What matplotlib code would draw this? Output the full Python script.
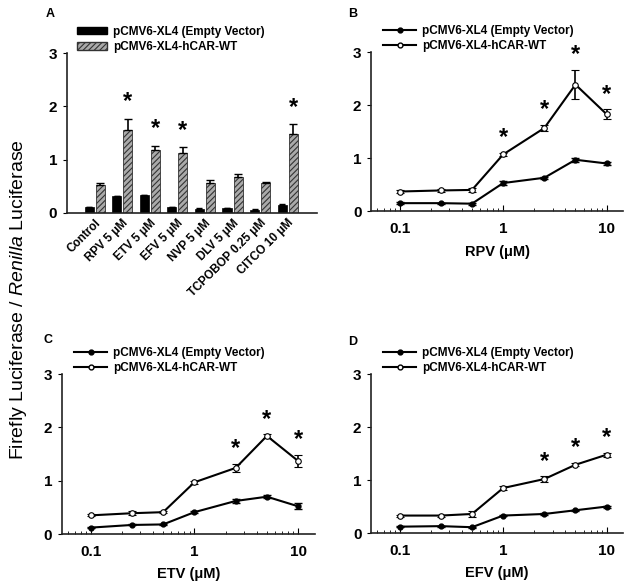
import numpy as np
import matplotlib
matplotlib.use("Agg")
import matplotlib.pyplot as plt
from matplotlib.patches import Patch
from matplotlib.lines import Line2D

plt.rcParams['font.family'] = ['Liberation Sans', 'DejaVu Sans']
plt.rcParams['mathtext.fontset'] = 'custom'
plt.rcParams['mathtext.it'] = 'Liberation Sans:italic'
plt.rcParams['mathtext.rm'] = 'Liberation Sans'
plt.rcParams['hatch.linewidth'] = 0.8
plt.rcParams['axes.linewidth'] = 1.2
plt.rcParams['axes.edgecolor'] = '#222222'

# panel A data
categories = ["Control", "RPV 5 \u03bcM", "ETV 5 \u03bcM", "EFV 5 \u03bcM", "NVP 5 \u03bcM",
              "DLV 5 \u03bcM", "TCPOBOP 0.25 \u03bcM", "CITCO 10 \u03bcM"]
empty_bar = [0.11, 0.31, 0.33, 0.11, 0.075, 0.09, 0.06, 0.15]
empty_bar_err = [0.01, 0.01, 0.01, 0.01, 0.01, 0.01, 0.01, 0.01]
wt_bar = [0.53, 1.56, 1.18, 1.12, 0.57, 0.68, 0.56, 1.49]
wt_bar_err = [0.04, 0.21, 0.08, 0.11, 0.05, 0.06, 0.03, 0.17]
star_bar = [False, True, True, True, False, False, False, True]

# dose-response data
conc = [0.1, 0.25, 0.5, 1, 2.5, 5, 10]

rpv_empty = [0.15, 0.15, 0.14, 0.53, 0.63, 0.97, 0.90]
rpv_empty_err = [0.02, 0.01, 0.02, 0.03, 0.02, 0.04, 0.03]
rpv_wt = [0.37, 0.39, 0.40, 1.07, 1.57, 2.39, 1.83]
rpv_wt_err = [0.02, 0.02, 0.03, 0.03, 0.06, 0.28, 0.09]
rpv_star = [False, False, False, True, True, True, True]

etv_empty = [0.12, 0.17, 0.18, 0.41, 0.62, 0.70, 0.52]
etv_empty_err = [0.01, 0.01, 0.01, 0.02, 0.04, 0.03, 0.06]
etv_wt = [0.35, 0.39, 0.41, 0.97, 1.24, 1.84, 1.37]
etv_wt_err = [0.02, 0.04, 0.02, 0.03, 0.07, 0.03, 0.11]
etv_star = [False, False, False, False, True, True, True]

efv_empty = [0.12, 0.13, 0.11, 0.33, 0.36, 0.43, 0.50]
efv_empty_err = [0.01, 0.01, 0.01, 0.01, 0.01, 0.01, 0.02]
efv_wt = [0.33, 0.33, 0.36, 0.85, 1.02, 1.29, 1.48]
efv_wt_err = [0.02, 0.02, 0.05, 0.03, 0.05, 0.03, 0.04]
efv_star = [False, False, False, False, True, True, True]

fig = plt.figure(figsize=(6.29, 5.88), dpi=100)

lab1 = "pCMV6-XL4 (Empty Vector)"
lab2 = "pCMV6-XL4-hCAR-WT"


def style_y(ax):
    ax.set_ylim(0, 3)
    ax.set_yticks([0, 1, 2, 3])
    ax.spines['top'].set_visible(False)
    ax.spines['right'].set_visible(False)
    ax.tick_params(axis='y', direction='out', length=3, labelsize=11, pad=4)
    for t in ax.get_yticklabels():
        t.set_fontweight('bold')


# ---- A
axA = fig.add_axes([0.1065, 0.6378, 0.397, 0.272])
x = np.arange(len(categories))
w = 0.33
axA.bar(x - 0.2, empty_bar, w, color='black', edgecolor='black', lw=0.5)
axA.errorbar(x - 0.2, empty_bar, yerr=[np.zeros(8), empty_bar_err], fmt='none',
             ecolor='black', elinewidth=1, capsize=2.5)
axA.bar(x + 0.2, wt_bar, w, color='#aaaaaa', edgecolor='#333333', hatch='//////', lw=0.6)
axA.errorbar(x + 0.2, wt_bar, yerr=[np.zeros(8), wt_bar_err], fmt='none',
             ecolor='black', elinewidth=1.2, capsize=3)
for i in range(len(categories)):
    if star_bar[i]:
        axA.text(x[i] + 0.2, wt_bar[i] + wt_bar_err[i] + 0.1, '*', ha='center',
                 va='bottom', fontsize=17, fontweight='bold')
axA.set_xlim(-1.0, 8.05)
axA.set_xticks(x)
axA.set_xticklabels(categories, rotation=45, ha='right', rotation_mode='anchor',
                    fontsize=8.5, fontweight='bold')
axA.tick_params(axis='x', length=0, pad=3)
style_y(axA)
hA = [Patch(facecolor='black', edgecolor='black'),
      Patch(facecolor='#aaaaaa', edgecolor='#333333', hatch='//////')]
axA.legend(hA, [lab1, lab2], loc='upper left', bbox_to_anchor=(0.02, 1.2),
           frameon=False, prop={'weight': 'bold', 'size': 8.5}, borderaxespad=0,
           handlelength=2.6, handleheight=0.6, labelspacing=0.3, handletextpad=0.5)


def line_panel(rect, empty, empty_err, wt, wt_err, star, xlabel):
    ax = fig.add_axes(rect)
    ax.errorbar(conc, empty, yerr=empty_err, color='black', lw=1.5, marker='o',
                ms=3.5, mfc='black', mec='black', capsize=3, elinewidth=1.2)
    ax.errorbar(conc, wt, yerr=wt_err, color='black', lw=1.5, marker='o',
                ms=4, mfc='white', mec='black', mew=0.8, capsize=3, elinewidth=1.2)
    for i in range(len(conc)):
        if star[i]:
            ax.text(conc[i], wt[i] + wt_err[i] + 0.07, '*', ha='center',
                    va='bottom', fontsize=17, fontweight='bold')
    ax.set_xscale('log')
    ax.set_xlim(0.053, 14.5)
    ax.set_xticks([0.1, 1, 10])
    ax.set_xticklabels(['0.1', '1', '10'], fontsize=11, fontweight='bold')
    ax.tick_params(axis='x', which='major', direction='in', length=4, pad=8)
    ax.tick_params(axis='x', which='minor', direction='in', length=2)
    ax.set_xlabel(xlabel, fontsize=10.5, fontweight='bold', labelpad=6)
    style_y(ax)
    h = [Line2D([], [], color='black', lw=1.5, marker='o', ms=3.5, mfc='black'),
         Line2D([], [], color='black', lw=1.5, marker='o', ms=3.5, mfc='white')]
    ax.legend(h, [lab1, lab2], loc='upper left', bbox_to_anchor=(0.03, 1.2),
              frameon=False, prop={'weight': 'bold', 'size': 8.5}, borderaxespad=0,
              handlelength=2.8, labelspacing=0.25, handletextpad=0.5)
    return ax


line_panel([0.590, 0.641, 0.401, 0.270], rpv_empty, rpv_empty_err, rpv_wt, rpv_wt_err,
           rpv_star, "RPV (\u03bcM)")
line_panel([0.0986, 0.0918, 0.402, 0.272], etv_empty, etv_empty_err, etv_wt, etv_wt_err,
           etv_star, "ETV (\u03bcM)")
line_panel([0.590, 0.0935, 0.401, 0.270], efv_empty, efv_empty_err, efv_wt, efv_wt_err,
           efv_star, "EFV (\u03bcM)")

fig.text(0.08, 0.977, 'A', fontsize=9, fontweight='bold', ha='center', va='center')
fig.text(0.561, 0.977, 'B', fontsize=9, fontweight='bold', ha='center', va='center')
fig.text(0.076, 0.422, 'C', fontsize=9, fontweight='bold', ha='center', va='center')
fig.text(0.561, 0.418, 'D', fontsize=9, fontweight='bold', ha='center', va='center')

fig.text(0.03, 0.49, r"Firefly Luciferase / $\mathit{Renilla}$ Luciferase",
         rotation=90, ha='center', va='center', fontsize=14)

fig.savefig("out.png", dpi=100)
